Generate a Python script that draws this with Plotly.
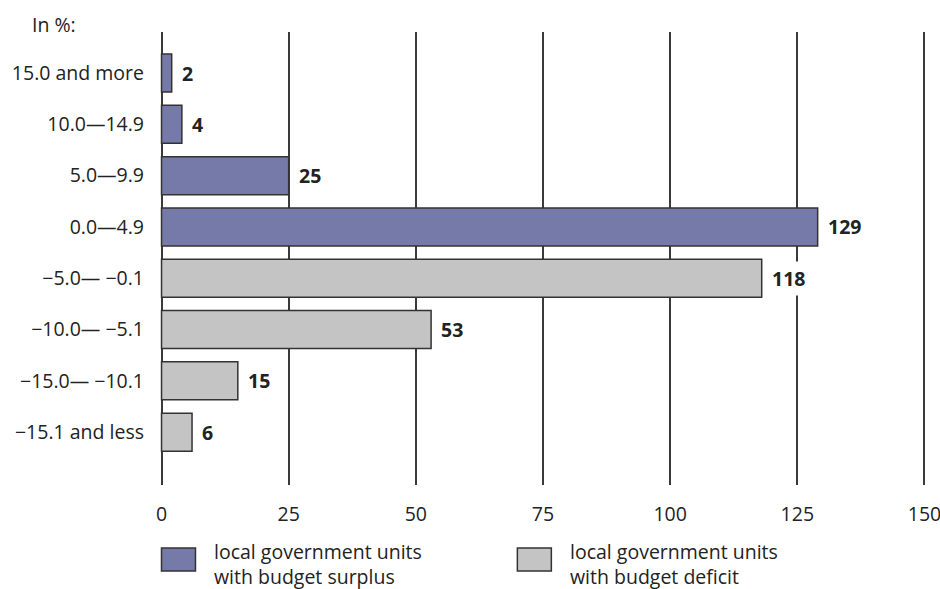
import plotly.graph_objects as go

categories = ["15.0 and more", "10.0—14.9", "5.0—9.9", "0.0—4.9",
              "−5.0— −0.1", "−10.0— −5.1", "−15.0— −10.1", "−15.1 and less"]
surplus_cats = categories[:4]
surplus_vals = [2, 4, 25, 129]
deficit_cats = categories[4:]
deficit_vals = [118, 53, 15, 6]
x_ticks = [0, 25, 50, 75, 100, 125, 150]
legend_labels = ["local government units<br>with budget surplus",
                 "local government units<br>with budget deficit"]

SURPLUS = "#767aa9"
DEFICIT = "#c4c4c4"
EDGE = "#333333"
FONT = "Open Sans"
TXT = "#222222"
FS = 19.5

W, H = 940, 589
L, R, T, B = 159.5, 14.2, 32, 104

fig = go.Figure()
fig.add_trace(go.Bar(y=surplus_cats, x=surplus_vals, orientation="h", width=0.74,
                     marker=dict(color=SURPLUS, line=dict(color=EDGE, width=1.5)),
                     showlegend=False, hoverinfo="x+y"))
fig.add_trace(go.Bar(y=deficit_cats, x=deficit_vals, orientation="h", width=0.74,
                     marker=dict(color=DEFICIT, line=dict(color=EDGE, width=1.5)),
                     showlegend=False, hoverinfo="x+y"))

def px(x):
    return (x - L) / (W - L - R)
def py(y):
    return (H - B - y) / (H - B - T)

annotations = []
for c, v in list(zip(surplus_cats, surplus_vals)) + list(zip(deficit_cats, deficit_vals)):
    annotations.append(dict(x=v, y=c, xref="x", yref="y", text=f"<b>{v}</b>",
                            showarrow=False, xanchor="left", xshift=6,
                            bgcolor="white", borderpad=3,
                            font=dict(family=FONT, size=FS, color=TXT)))

annotations.append(dict(x=px(29), y=py(25), xref="paper", yref="paper", text="In %:",
                        showarrow=False, xanchor="left", yanchor="middle",
                        font=dict(family=FONT, size=FS, color=TXT)))

fig.update_layout(
    width=W, height=H,
    margin=dict(l=L, r=R, t=T, b=B, autoexpand=False),
    paper_bgcolor="white", plot_bgcolor="white",
    barmode="overlay",
    showlegend=False,
    xaxis=dict(range=[-0.3, 150.3], tickvals=x_ticks, showgrid=True, gridcolor="#3a3a3a",
               gridwidth=1.5, zeroline=False, showline=False, ticks="",
               ticklabelstandoff=15, ticklabeloverflow="allow",
               tickfont=dict(family=FONT, size=FS, color=TXT), fixedrange=True),
    yaxis=dict(categoryorder="array", categoryarray=categories, range=[8.03, -0.80],
               showgrid=False, zeroline=False, showline=False, ticks="",
               ticklabelstandoff=15,
               tickfont=dict(family=FONT, size=FS, color=TXT), fixedrange=True),
)

shapes = []
for (x0, tx), col, lab in zip([(161, 213), (517, 569)], [SURPLUS, DEFICIT], legend_labels):
    shapes.append(dict(type="rect", xref="paper", yref="paper",
                       x0=px(x0), x1=px(x0 + 34), y0=py(571), y1=py(548),
                       fillcolor=col, line=dict(color=EDGE, width=1.5)))
    annotations.append(dict(x=px(tx), y=py(537), xref="paper", yref="paper", text=lab,
                            showarrow=False, xanchor="left", yanchor="top", align="left",
                            borderpad=0,
                            font=dict(family=FONT, size=FS, color=TXT)))

fig.update_layout(shapes=shapes, annotations=annotations)
fig.write_html("out.html")
